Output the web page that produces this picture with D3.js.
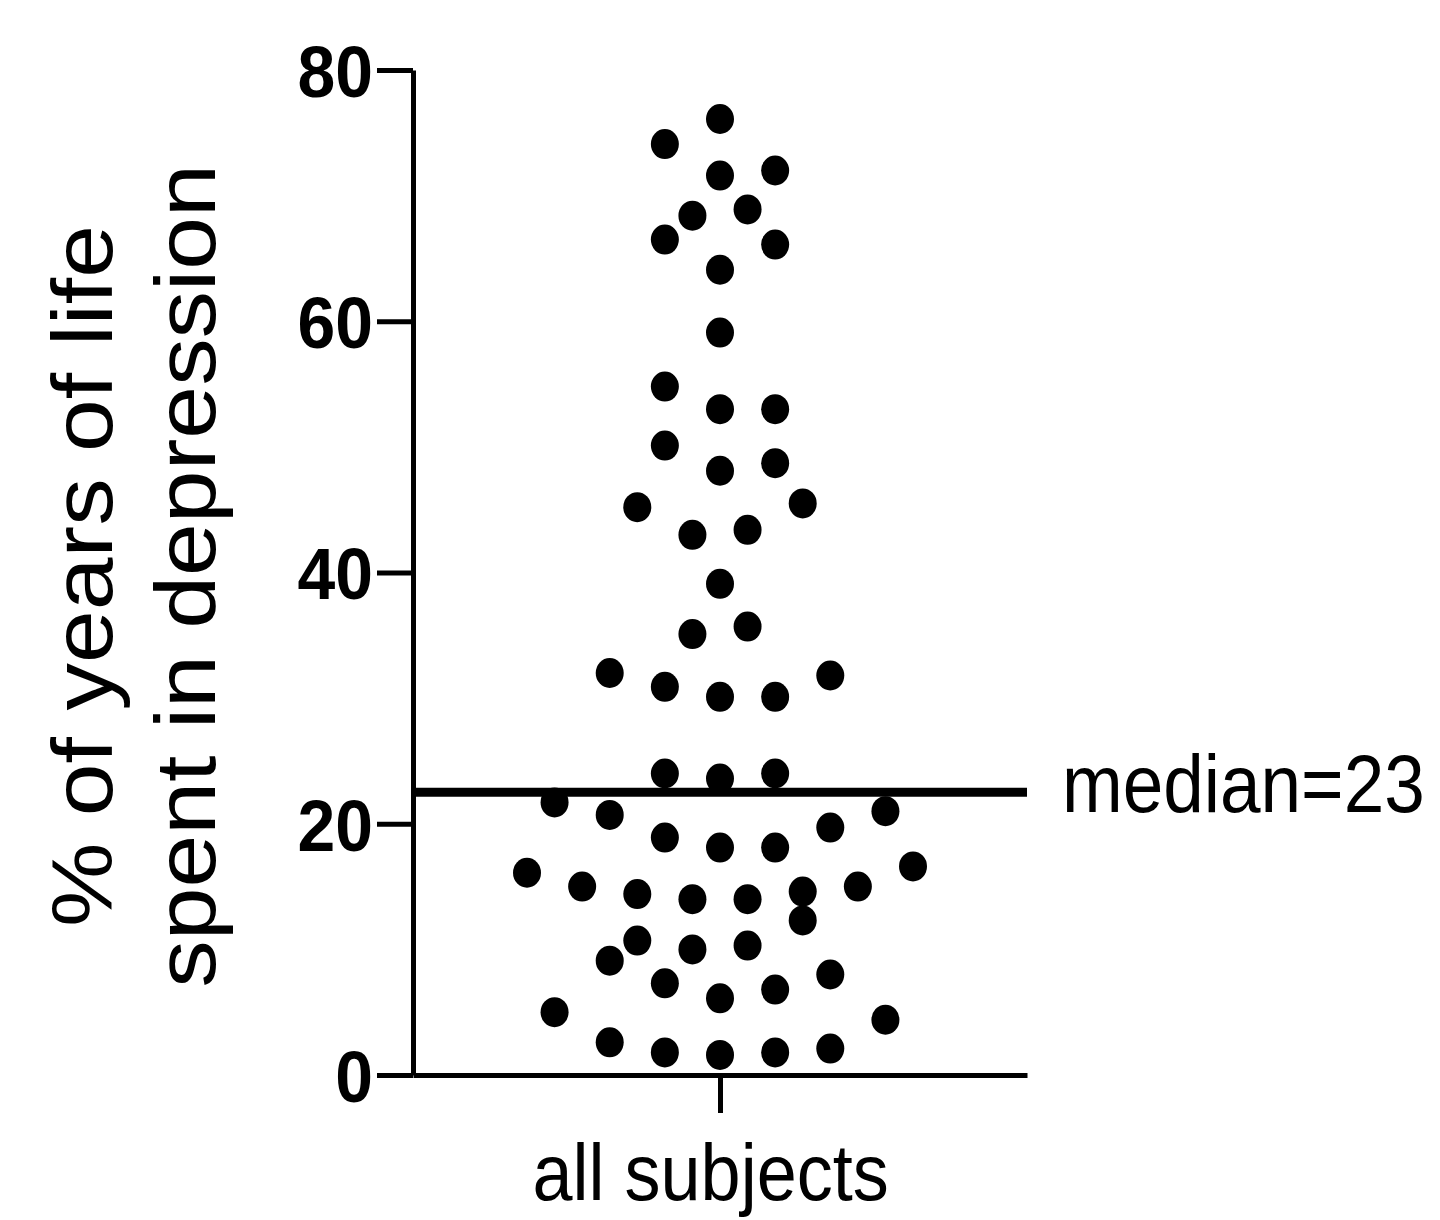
<!DOCTYPE html>
<html>
<head>
<meta charset="utf-8">
<script src="https://cdn.jsdelivr.net/npm/d3@7"></script>
<style>
  body { margin: 0; background: #fff; }
  .axis path, .axis line { stroke: #000; stroke-width: 5; stroke-linecap: butt; }
  .axis text { fill: #000; }
</style>
</head>
<body>
<svg class="chart"></svg>
<script>
// values (% of years of life spent in depression)
var values = [76.1, 74.1, 71.6, 72.0, 68.4, 68.9, 66.5, 66.1, 64.1, 59.1,
              54.8, 53.0, 53.0, 50.1, 48.7, 48.1, 45.2, 45.5, 43.0, 43.4,
              39.1, 35.1, 35.7, 32.0, 31.8, 30.9, 30.1, 30.1, 24.0, 23.6,
              24.0, 21.7, 20.7, 21.0, 19.7, 18.9, 18.1, 18.1, 16.1, 16.6,
              15.0, 15.0, 14.4, 14.0, 14.0, 14.6, 12.3, 10.7, 10.0, 10.3,
              9.1, 8.0, 7.3, 6.1, 6.8, 5.0, 4.4, 2.6, 1.8, 1.6, 1.8, 2.1];
// swarm slot of each point (left/right of centre, in half-dot steps)
var slots = [0, -2, 0, 2, -1, 1, -2, 2, 0, 0,
             -2, 0, 2, -2, 2, 0, -3, 3, -1, 1,
             0, -1, 1, -4, 4, -2, 0, 2, -2, 0,
             2, -6, -4, 6, 4, -2, 0, 2, -7, 7,
             -5, 5, -3, -1, 1, 3, 3, -3, -1, 1,
             -4, 4, -2, 0, 2, -6, 6, -4, -2, 0, 2, 4];
var categories = ['all subjects'];
var yTicks = [0, 20, 40, 60, 80];
var median = 22.5;
var medianLabel = 'median=23';
var titleLines = ['% of years of life', 'spent in depression'];

// note: "top" is taken by window.top, so the margins live in an object
var W = 1440, H = 1220;
var plot = {left: 413, right: 1027, top: 70, bottom: 1075};

var chart = d3.select('.chart')
  .attr('width', W)
  .attr('height', H);

var y = d3.scaleLinear().domain([0, 80]).range([plot.bottom, plot.top]);
var x = d3.scalePoint().domain(categories).range([plot.left, plot.right]).padding(0.5);
// jitter offset within the column
var cx = x('all subjects');
var jx = d3.scaleLinear().domain([-7, 7]).range([cx - 193, cx + 193]);

// y axis
var yAxis = chart.append('g')
  .attr('class', 'axis')
  .attr('transform', 'translate(' + plot.left + ',0)')
  .call(d3.axisLeft(y).tickValues(yTicks).tickSize(36).tickSizeOuter(0));
yAxis.selectAll('text')
  .attr('x', -40 / 0.93)
  .attr('dy', '0.36em')
  .attr('transform', 'scale(0.93,1)')
  .style('font-family', 'Liberation Sans, Arial, sans-serif')
  .style('font-weight', 'bold')
  .style('font-size', '73px');

// x axis
var xAxis = chart.append('g')
  .attr('class', 'axis')
  .attr('transform', 'translate(0,' + plot.bottom + ')')
  .call(d3.axisBottom(x).tickSize(38).tickSizeOuter(0));
xAxis.selectAll('text')
  .attr('y', 125)
  .attr('dy', 0)
  .attr('dx', -11)
  .attr('transform', 'scale(0.9,1)')
  .style('font-family', 'Liberation Sans, Arial, sans-serif')
  .style('font-size', '80px');

// dots
chart.selectAll('.dot')
  .data(values)
  .enter().append('ellipse')
  .attr('class', 'dot')
  .attr('cx', function(d, i) { return jx(slots[i]); })
  .attr('cy', function(d) { return y(d); })
  .attr('rx', 14)
  .attr('ry', 15)
  .attr('fill', '#000');

// median line
chart.append('line')
  .attr('x1', plot.left).attr('x2', plot.right)
  .attr('y1', y(median)).attr('y2', y(median))
  .attr('stroke', '#000')
  .attr('stroke-width', 9);

chart.append('text')
  .attr('transform', 'translate(1062,' + (y(median) + 20) + ') scale(0.9,1)')
  .style('font-family', 'Liberation Sans, Arial, sans-serif')
  .style('font-size', '81px')
  .text(medianLabel);

// y title, two lines
chart.selectAll('.ytitle')
  .data(titleLines)
  .enter().append('text')
  .attr('class', 'ytitle')
  .attr('transform', function(d, i) { return 'translate(' + (112 + i * 103) + ',576) scale(0.9,1) rotate(-90)'; })
  .attr('text-anchor', 'middle')
  .style('font-family', 'Liberation Sans, Arial, sans-serif')
  .style('font-size', '95px')
  .text(function(d) { return d; });
</script>
</body>
</html>
